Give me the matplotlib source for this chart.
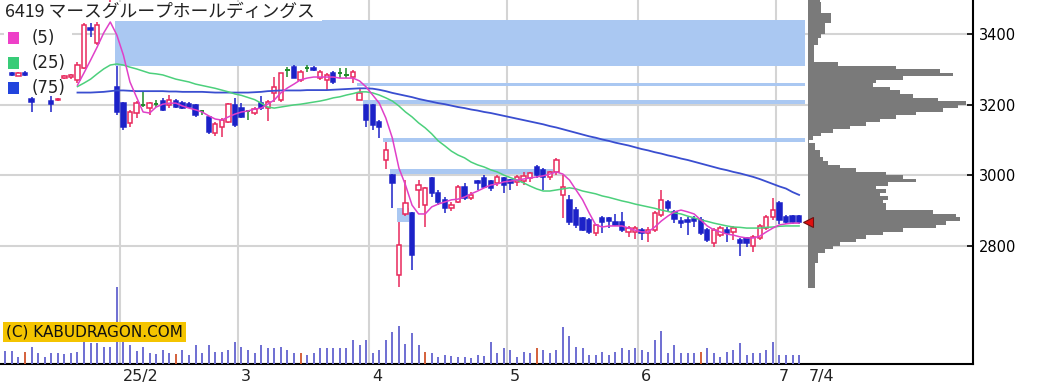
import matplotlib
matplotlib.use("Agg")
import matplotlib.pyplot as plt
from matplotlib.patches import Rectangle
import numpy as np

# daily OHLC, 2025-01-06 .. 2025-07-04 (index = trading day)
opens = [None, None, 3289, 3282, 3290, 3216, None, None, 3210, 3213,
         3276, 3278, 3270, 3304, 3417, 3374, 3445, 3448, 3250, 3205,
         3148, 3176, 3199, 3190, 3203, 3210, 3199, 3210, 3204, 3201,
         3199, 3182, 3165, 3119, 3136, 3150, 3199, 3190, 3182, 3176,
         3204, 3190, 3233, 3213, 3298, 3306, 3270, 3304, 3303, 3275,
         3270, 3289, 3289, 3284, 3278, 3213, 3199, 3199, 3150, 3043,
         3000, 2717, 2890, 2893, 2958, 2915, 2992, 2949, 2929, 2907,
         2924, 2966, 2935, 2983, 2992, 2983, 2978, 2992, 2986, 2981,
         2983, 2992, 3023, 3015, 2995, 3009, 2944, 2930, 2901, 2878,
         2873, 2836, 2878, 2878, 2867, 2867, 2839, 2839, 2845, 2836,
         2845, 2887, 2924, 2895, 2870, 2873, 2876, 2873, 2845, 2808,
         2830, 2845, 2839, 2816, 2822, 2800, 2822, 2850, 2881, 2921,
         2881, 2884, 2884]
highs = [None, None, 3292, 3292, 3295, 3222, None, None, 3230, 3218,
         3284, 3286, 3320, 3431, 3431, 3434, 3485, 3530, 3309, 3208,
         3185, 3210, 3236, 3207, 3213, 3219, 3227, 3216, 3210, 3207,
         3202, 3185, 3168, 3150, 3162, 3204, 3219, 3204, 3185, 3193,
         3224, 3213, 3278, 3289, 3306, 3312, 3298, 3312, 3310, 3298,
         3289, 3295, 3303, 3303, 3298, 3247, 3202, 3202, 3156, 3094,
         3003, 2867, 2986, 2895, 2986, 2967, 2995, 2958, 2938, 2924,
         2972, 2978, 2952, 2986, 3000, 2986, 3000, 2995, 2990, 3000,
         3009, 3010, 3029, 3020, 3012, 3049, 3000, 2944, 2910, 2881,
         2878, 2862, 2884, 2881, 2890, 2895, 2856, 2856, 2850, 2853,
         2898, 2958, 2929, 2901, 2880, 2882, 2885, 2880, 2850, 2850,
         2856, 2852, 2856, 2822, 2825, 2830, 2862, 2887, 2935, 2927,
         2887, 2887, 2887]
lows = [None, None, 3280, 3280, 3281, 3180, None, None, 3180, 3210,
        3272, 3272, 3262, 3300, 3391, 3370, 3442, 3440, 3170, 3128,
        3136, 3162, 3193, 3170, 3193, 3182, 3190, 3190, 3188, 3190,
        3165, 3170, 3117, 3111, 3108, 3148, 3136, 3162, 3156, 3170,
        3185, 3153, 3207, 3207, 3278, 3275, 3264, 3292, 3296, 3270,
        3241, 3258, 3275, 3275, 3261, 3213, 3136, 3128, 3105, 3017,
        2907, 2683, 2884, 2731, 2907, 2853, 2938, 2915, 2893, 2898,
        2921, 2929, 2929, 2958, 2964, 2955, 2970, 2949, 2958, 2970,
        2972, 2981, 2992, 2958, 2986, 3000, 2879, 2859, 2850, 2842,
        2833, 2828, 2836, 2850, 2856, 2839, 2825, 2819, 2816, 2810,
        2839, 2881, 2898, 2864, 2850, 2830, 2852, 2830, 2810, 2796,
        2825, 2810, 2816, 2771, 2796, 2782, 2816, 2845, 2873, 2862,
        2862, 2862, 2862]
closes = [None, None, 3283, 3290, 3284, 3207, None, None, 3201, 3216,
          3281, 3283, 3312, 3425, 3411, 3425, 3470, 3470, 3180, 3136,
          3179, 3205, 3199, 3204, 3203, 3185, 3213, 3193, 3190, 3193,
          3170, 3182, 3122, 3145, 3156, 3202, 3142, 3165, 3182, 3187,
          3190, 3207, 3250, 3289, 3298, 3275, 3292, 3304, 3298, 3292,
          3284, 3264, 3289, 3284, 3292, 3233, 3156, 3142, 3136, 3071,
          2978, 2802, 2921, 2774, 2972, 2964, 2949, 2924, 2907, 2915,
          2966, 2935, 2944, 2978, 2966, 2964, 2995, 2972, 2978, 2995,
          2998, 3006, 3000, 2995, 3009, 3043, 2966, 2867, 2859, 2845,
          2839, 2859, 2867, 2870, 2859, 2845, 2850, 2850, 2836, 2845,
          2893, 2929, 2907, 2875, 2864, 2867, 2870, 2836, 2816, 2845,
          2850, 2836, 2850, 2808, 2808, 2825, 2856, 2881, 2901, 2873,
          2867, 2867, 2867]

# volume (thousand shares)
volumes = [36, 40, 40, 20, 37, 50, 33, 20, 33, 33,
           29, 33, 37, 70, 62, 62, 50, 50, 230, 70,
           57, 40, 50, 33, 30, 43, 33, 30, 43, 27,
           57, 33, 57, 37, 37, 43, 67, 50, 43, 33,
           57, 47, 47, 52, 43, 33, 33, 27, 33, 47,
           47, 47, 47, 47, 72, 57, 72, 33, 43, 72,
           95, 115, 60, 92, 57, 37, 33, 22, 27, 23,
           22, 22, 17, 27, 23, 67, 32, 47, 43, 22,
           37, 33, 47, 43, 33, 43, 110, 85, 52, 47,
           27, 27, 37, 27, 37, 47, 43, 47, 43, 37,
           72, 100, 33, 57, 33, 33, 33, 37, 47, 33,
           22, 37, 43, 62, 27, 33, 33, 43, 67, 27,
           27, 27, 27]
sq_days = [4, 27, 46, 65, 82, 107]

# moving averages, drawn from day 12
ma5 = [None] * 12 + [
    3255, 3290, 3326, 3363, 3403, 3434, 3397, 3340, 3264, 3221,
    3179, 3176, 3193, 3201, 3204, 3204, 3196, 3190, 3185, 3179,
    3168, 3159, 3156, 3165, 3173, 3179, 3182, 3187, 3190, 3201,
    3213, 3233, 3247, 3258, 3270, 3275, 3278, 3278, 3278, 3278,
    3275, 3275, 3275, 3267, 3250, 3227, 3204, 3162, 3105, 3020,
    2972, 2915, 2890, 2890, 2910, 2918, 2924, 2930, 2932, 2938,
    2947, 2955, 2964, 2972, 2975, 2981, 2983, 2986, 2989, 2992,
    2995, 2998, 3003, 3009, 3003, 2986, 2958, 2930, 2893, 2859,
    2853, 2856, 2856, 2856, 2850, 2844, 2839, 2839, 2853, 2870,
    2884, 2896, 2901, 2896, 2890, 2873, 2856, 2845, 2839, 2833,
    2830, 2825, 2822, 2822, 2827, 2839, 2850, 2859, 2862, 2864,
    2864]
ma25 = [None] * 12 + [
    3251, 3261, 3272, 3287, 3301, 3312, 3315, 3312, 3306, 3301,
    3295, 3289, 3287, 3284, 3278, 3272, 3268, 3264, 3258, 3254,
    3250, 3246, 3241, 3236, 3230, 3226, 3220, 3214, 3204, 3193,
    3190, 3193, 3196, 3199, 3201, 3204, 3207, 3210, 3214, 3219,
    3222, 3227, 3231, 3236, 3236, 3233, 3227, 3219, 3210, 3196,
    3179, 3165, 3148, 3134, 3117, 3097, 3083, 3068, 3057, 3049,
    3037, 3029, 3023, 3015, 3009, 3000, 2993, 2986, 2978, 2969,
    2961, 2955, 2955, 2958, 2961, 2964, 2961, 2955, 2951, 2947,
    2941, 2937, 2932, 2927, 2923, 2918, 2914, 2910, 2906, 2901,
    2897, 2893, 2890, 2884, 2879, 2873, 2869, 2864, 2860, 2856,
    2853, 2852, 2850, 2850, 2850, 2852, 2853, 2855, 2856, 2856,
    2856]
ma75 = [None] * 12 + [
    3234, 3234, 3234, 3235, 3236, 3238, 3240, 3240, 3239, 3238,
    3238, 3238, 3238, 3238, 3237, 3237, 3236, 3236, 3236, 3236,
    3235, 3234, 3234, 3234, 3234, 3234, 3234, 3235, 3236, 3238,
    3239, 3240, 3240, 3240, 3240, 3241, 3241, 3241, 3241, 3242,
    3243, 3244, 3245, 3246, 3246, 3245, 3242, 3238, 3233, 3229,
    3225, 3221, 3216, 3212, 3208, 3204, 3201, 3197, 3193, 3190,
    3186, 3183, 3179, 3176, 3172, 3168, 3164, 3160, 3156, 3152,
    3148, 3144, 3139, 3135, 3130, 3125, 3120, 3115, 3110, 3106,
    3101, 3097, 3092, 3088, 3084, 3079, 3074, 3070, 3065, 3061,
    3056, 3052, 3047, 3043, 3038, 3033, 3028, 3023, 3018, 3014,
    3009, 3005, 3000, 2995, 2989, 2982, 2975, 2968, 2962, 2952,
    2944]

# open price gaps (窓): price range and the days it spans
gap_lo = [3309, 3252, 3202, 3094, 3003, 2867]
gap_hi = [3440, 3260, 3213, 3105, 3017, 2907]
gap_from = [17.7, 54.6, 55.6, 58.6, 59.6, 60.7]
gap_to = [122.9, 122.9, 122.9, 122.9, 84.5, 62.5]

month_first = [19, 37, 57, 78, 98, 119]
month_labels = ["25/2", "3", "4", "5", "6", "7"]
last_label = "7/4"
last_price = 2867

# volume by price, 10-yen bins from the top down
prof_bins = list(range(3490, 2670, -10))
prof_vol = [11.7, 13.3, 13.3, 13.3, 23.3, 23.3, 23.3, 16.7, 16.7, 16.7,
            13, 10, 10, 5.7, 5.7, 5.7, 5.7, 5.7, 30, 88,
            132, 145, 95, 68, 65, 82, 92, 105, 130, 158,
            150, 135, 108, 88, 72, 58, 42, 25, 13, 5,
            1, 6.7, 6.7, 11.7, 11.7, 15, 20, 32, 48, 78,
            95, 108, 80, 68, 78, 72, 80, 75, 78, 78,
            125, 148, 152, 138, 128, 95, 75, 58, 48, 32,
            25, 17, 10, 10, 10, 6.7, 6.7, 6.7, 6.7, 6.7,
            6.7, 6.7]

W, H = 1046, 390
PX = 6.56  # pixels per trading day
RED = "#e8285c"
BLUE = "#1c22c8"
GREEN = "#1e8c2a"
BAND = "#aac8f2"
GRID = "#d4d4d4"

fig = plt.figure(figsize=(W / 100, H / 100), dpi=100)
x0 = 19 - 123.4 / PX
x1 = x0 + 973 / PX
ylo, yhi = 2464.8, 3496.3
rect = [0, 26 / H, 973 / W, 364 / H]

ax = fig.add_axes(rect)
ax.set_xlim(x0, x1)
ax.set_ylim(ylo, yhi)
for s in ["top", "left"]:
    ax.spines[s].set_visible(False)
for s in ["right", "bottom"]:
    ax.spines[s].set_linewidth(1.5)
ax.yaxis.tick_right()
ax.set_yticks([2800, 3000, 3200, 3400])
ax.tick_params(axis="y", direction="in", length=4, width=1.2, labelsize=10.5, pad=4)
ax.set_xticks([])

for p in [2800, 3000, 3200, 3400]:
    ax.axhline(p, color=GRID, lw=1.5, zorder=0)
for m in month_first:
    ax.axvline(m - 0.5, color=GRID, lw=1.5, zorder=0)

for lo, hi, a, b in zip(gap_lo, gap_hi, gap_from, gap_to):
    ax.add_patch(Rectangle((a, lo), b - a, hi - lo, facecolor=BAND, lw=0, zorder=1))

n = len(closes)
idx = np.arange(n)
BW = 0.66
for i in range(n):
    o, h, l, c = opens[i], highs[i], lows[i], closes[i]
    if o is None:
        continue
    if c > o:
        col, face = RED, "white"
    elif c < o:
        col, face = BLUE, BLUE
    else:
        col, face = GREEN, None
    ax.vlines(i, l, h, color=col, lw=1.1, zorder=3)
    if face is None:
        ax.hlines(c, i - BW / 2, i + BW / 2, color=col, lw=1.4, zorder=4)
    else:
        ax.add_patch(Rectangle((i - BW / 2, min(o, c)), BW, abs(c - o),
                               facecolor=face, edgecolor=col, lw=1.1, zorder=4))


def arr(v):
    return np.array([np.nan if a is None else a for a in v], dtype=float)


ax.plot(idx, arr(ma75), color="#3a4ed0", lw=1.3, zorder=5)
ax.plot(idx, arr(ma25), color="#4cd07c", lw=1.1, zorder=5)
ax.plot(idx, arr(ma5), color="#e040c8", lw=1.1, zorder=5)

# x labels
tr = ax.get_xaxis_transform()
for m, lab in zip(month_first, month_labels):
    ax.text(m - 0.5 + 3 / PX, -0.033, lab, transform=tr, ha="left", va="center",
            fontsize=11.5, color="#222222")
ax.text(x0 + 809 / PX, -0.033, last_label, transform=tr, ha="left", va="center",
        fontsize=11.5, color="#222222")

# volume bars
axv = fig.add_axes(rect)
axv.set_xlim(x0, x1)
axv.set_ylim(0, 1092)
axv.axis("off")
axv.patch.set_visible(False)
vcols = ["#d4603a" if i in sq_days else "#6e6ed2" for i in range(n)]
axv.vlines(idx, 0, volumes, colors=vcols, lw=1.4)

# volume by price
axp = fig.add_axes([808 / W, 26 / H, 165 / W, 364 / H])
axp.set_xlim(0, 165)
axp.set_ylim(ylo, yhi)
axp.axis("off")
axp.patch.set_visible(False)
axp.barh(prof_bins, prof_vol, height=10, align="edge", color="#7a7a7a", lw=0)
axp.plot(0, last_price, marker="<", ms=7, mfc="#e01010", mec="#701010", mew=0.8,
         clip_on=False, zorder=6)


def px_rect(x, y, w, h, **kw):
    fig.patches.append(Rectangle((x / W, 1 - (y + h) / H), w / W, h / H,
                                 transform=fig.transFigure, **kw))


# title
px_rect(0, 2, 322, 19, facecolor="white", lw=0, zorder=2)
fig.text(5 / W, 1 - 12 / H, "6419 マースグループホールディングス",
         family=["Noto Sans CJK JP", "DejaVu Sans"], fontsize=12.8,
         va="center", ha="left", color="#222222", zorder=3)

# legend
for yc, col, lab in [(38, "#ee40c8", "(5)"), (63, "#38cc78", "(25)"), (88, "#2244dd", "(75)")]:
    px_rect(4, yc - 8, 68, 16, facecolor="white", lw=0, zorder=2)
    px_rect(8, yc - 6, 11, 12, facecolor=col, lw=0, zorder=3)
    fig.text(32 / W, 1 - yc / H, lab, fontsize=12, va="center", ha="left",
             color="#222222", zorder=3)

# copyright tag
fig.text(6 / W, 1 - 332 / H, "(C) KABUDRAGON.COM", fontsize=11, va="center",
         ha="left", color="#111111", zorder=3,
         bbox=dict(facecolor="#f4c400", edgecolor="none", pad=2))

fig.savefig("out.png", dpi=100)
